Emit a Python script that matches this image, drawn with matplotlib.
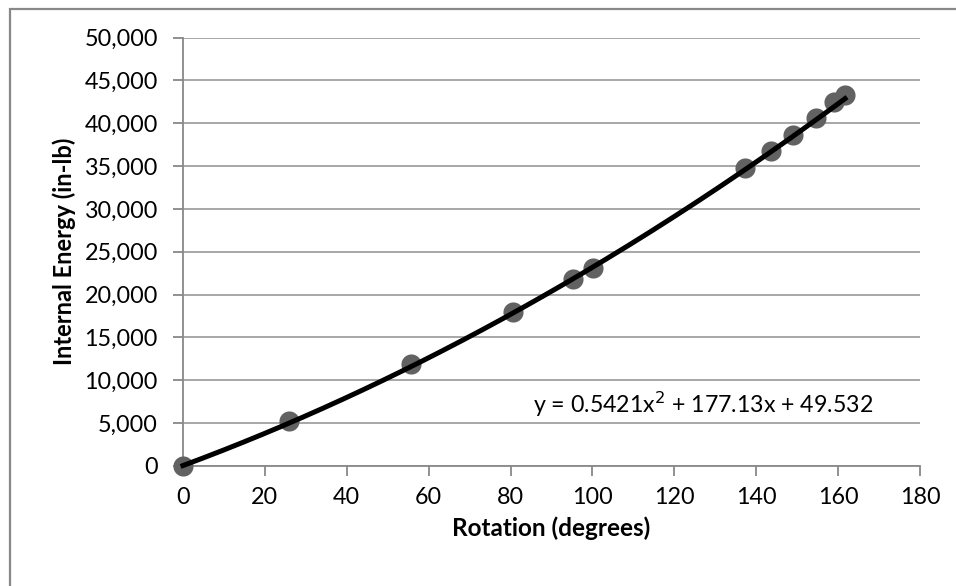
import matplotlib.pyplot as plt
import matplotlib.patches as mpatches
import numpy as np
from matplotlib.ticker import FuncFormatter

plt.rcParams["font.family"] = ["Lato", "DejaVu Sans"]

# measured data (rotation in degrees, internal energy in in-lb)
rotation = [0, 25.9, 55.6, 80.6, 95.2, 100.1, 137.3, 143.7, 149.0, 154.6, 159.0, 161.7]
energy = [0, 5300, 11900, 18000, 21780, 23150, 34740, 36800, 38640, 40630, 42470, 43240]

# quadratic trendline coefficients shown on the chart
fit_coef = [0.5421, 177.13, 49.532]
fit_label = "y = 0.5421x$^2$ + 177.13x + 49.532"

x_ticks = np.arange(0, 181, 20)
y_ticks = np.arange(0, 50001, 5000)

fig = plt.figure(figsize=(9.56, 5.86), dpi=100)
ax = fig.add_axes([0.1914, 0.2048, 0.9623 - 0.1914, 0.936 - 0.2048])

# chart border (left/top visible, rest cropped)
fig.patches.append(mpatches.Rectangle((10 / 956, -0.1), 1.2, 1 - 9 / 586 + 0.1,
                                      transform=fig.transFigure, fill=False,
                                      edgecolor="#888888", linewidth=1.6))

ax.scatter(rotation, energy, s=210, color="#626262", zorder=3, linewidths=0,
           clip_on=False)
xf = np.linspace(0, max(rotation), 200)
ax.plot(xf, np.polyval(fit_coef, xf), color="black", linewidth=3.6, zorder=4,
        clip_on=False)

ax.set_xlim(0, 180)
ax.set_ylim(0, 50000)
ax.set_xticks(x_ticks)
ax.set_yticks(y_ticks)
ax.yaxis.set_major_formatter(FuncFormatter(lambda v, p: f"{int(v):,}"))

ax.grid(axis="y", color="#a0a0a0", linewidth=1.3)
ax.set_axisbelow(True)
for side in ["top", "right"]:
    ax.spines[side].set_visible(False)
for side in ["left", "bottom"]:
    ax.spines[side].set_color("#888888")
    ax.spines[side].set_linewidth(1.3)

ax.tick_params(axis="both", colors="#888888", labelcolor="black", labelsize=16.8,
               length=7, width=1.3)
ax.tick_params(axis="y", pad=11)
ax.tick_params(axis="x", pad=8)

ax.set_xlabel("Rotation (degrees)", fontsize=17.5, fontweight="bold", labelpad=6)
ax.set_ylabel("Internal Energy (in-lb)", fontsize=17, fontweight="bold", labelpad=6)

ax.text(85.4, 7140, fit_label, fontsize=16.7, ha="left", va="center")

fig.savefig("out.png", dpi=100)
